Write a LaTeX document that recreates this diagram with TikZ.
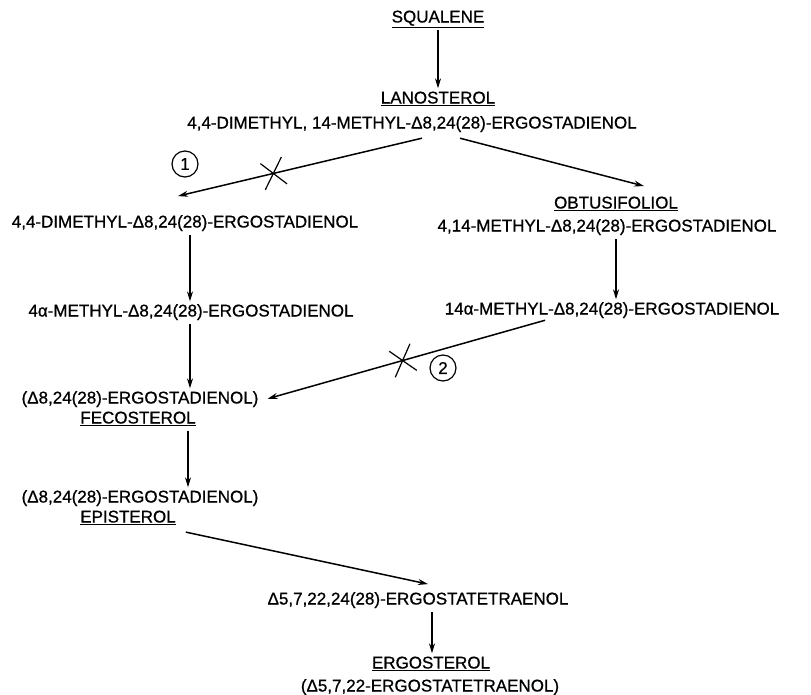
\documentclass[tikz,border=0pt]{standalone}
\usepackage{fontspec}
\setmainfont{Liberation Sans}
\newfontfamily\labelfont{Liberation Sans}[FakeBold=0.8]
\usetikzlibrary{arrows.meta,shapes.misc}
\tikzset{
 txt/.style={font=\labelfont\fontsize{17}{19}\selectfont,inner sep=2pt,text height=12pt,text depth=3pt},
 arr/.style={line width=1.5pt,-{Stealth[length=10pt,width=6pt]},shorten <=2pt,shorten >=1pt},
 blk/.style={cross out,draw,line width=1.2pt,minimum width=22pt,minimum height=27pt,sloped,inner sep=0pt},
 nr/.style={circle,draw,line width=1.2pt,minimum size=26pt,inner sep=0pt,font=\labelfont\fontsize{17}{19}\selectfont}
}
\begin{document}
\begin{tikzpicture}[x=1pt,y=-1pt]
\useasboundingbox(0,0)rectangle(811,694);
%top
\node[txt](sq)at(438,18){\underline{SQUALENE}};
\node[txt](lan)at(438,99){\underline{LANOSTEROL}};
\node[txt](lanC)at(412,124){4,4-DIMETHYL, 14-METHYL-Δ8,24(28)-ERGOSTADIENOL};
%left branch
\node[txt](dm)at(185,223){4,4-DIMETHYL-Δ8,24(28)-ERGOSTADIENOL};
\node[txt](ma4)at(191,312){4α-METHYL-Δ8,24(28)-ERGOSTADIENOL};
\node[txt](fecC)at(140,399){(Δ8,24(28)-ERGOSTADIENOL)};
\node[txt](fec)at(138,419){\underline{FECOSTEROL}};
\node[txt](epiC)at(140,498){(Δ8,24(28)-ERGOSTADIENOL)};
\node[txt](epi)at(128,518){\underline{EPISTEROL}};
%right branch
\node[txt](obt)at(616,204){\underline{OBTUSIFOLIOL}};
\node[txt](obtC)at(607,227){4,14-METHYL-Δ8,24(28)-ERGOSTADIENOL};
\node[txt](ma14)at(612,310){14α-METHYL-Δ8,24(28)-ERGOSTADIENOL};
%bottom
\node[txt](tet)at(418,600){Δ5,7,22,24(28)-ERGOSTATETRAENOL};
\node[txt](erg)at(431,664){\underline{ERGOSTEROL}};
\node[txt](ergC)at(430,687){(Δ5,7,22-ERGOSTATETRAENOL)};
%blocked steps
\node[nr](n1)at(185,164){1};
\node[nr](n2)at(443,368){2};
%arrows
\draw[arr](sq)--(lan);
\draw[arr]([shift={(12pt,-4pt)}]lanC.south)--node[blk,pos=.61]{}([shift={(-8pt,17pt)}]dm.north);
\draw[arr]([shift={(46pt,-4pt)}]lanC.south)--([shift={(29pt,8pt)}]obt.north);
\draw[arr]([xshift=5pt]dm.south)--([xshift=-1pt]ma4.north);
\draw[arr]([xshift=9pt]obtC.south)--([xshift=4pt]ma14.north);
\draw[arr]([xshift=-1pt]ma4.south)--([xshift=50pt]fecC.north);
\draw[arr]([xshift=-65pt]ma14.south)--node[blk,pos=.515]{}([xshift=6pt]fecC.east);
\draw[arr]([xshift=50pt]fec.south)--([xshift=48pt]epiC.north);
\draw[arr]([shift={(6pt,-4pt)}]epi.south east)--([shift={(11pt,6pt)}]tet.north);
\draw[arr]([xshift=14pt]tet.south)--([xshift=1pt]erg.north);
\end{tikzpicture}
\end{document}
